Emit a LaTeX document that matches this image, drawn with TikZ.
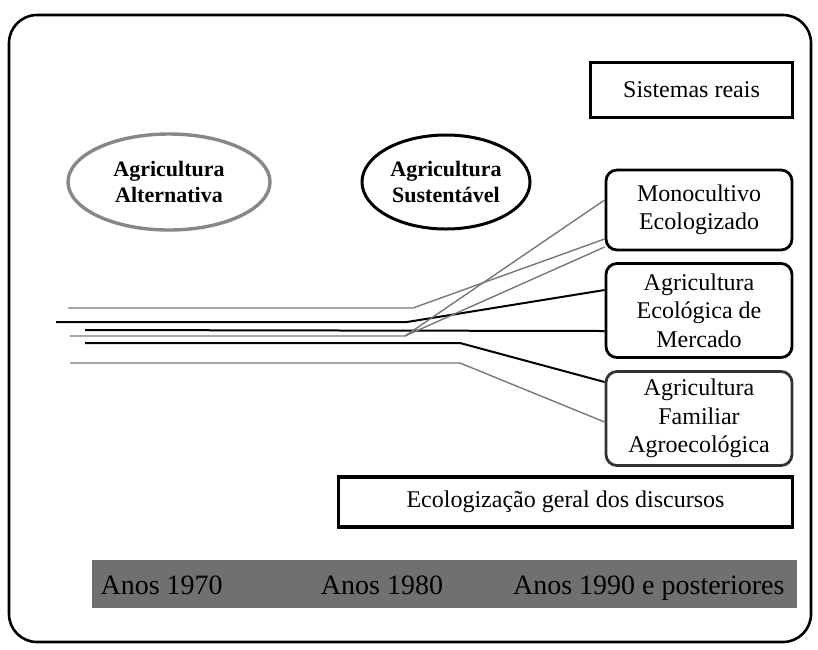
\documentclass[tikz,border=0pt]{standalone}
\usepackage{fontspec}
\setmainfont{Liberation Serif}
\usetikzlibrary{shapes.geometric}
\definecolor{linegray}{RGB}{120,120,120}
\definecolor{ringgray}{RGB}{135,135,135}
\definecolor{barfill}{RGB}{112,112,112}
\begin{document}
\begin{tikzpicture}[x=1pt,y=-1pt,
  txt/.style={font=\fontsize{24}{28.5}\selectfont, align=center},
  bartxt/.style={font=\fontsize{28}{30}\selectfont, anchor=base},
  btxt/.style={font=\fontsize{22}{26}\selectfont\bfseries, align=center},
  sharpbox/.style={draw, line width=3.2pt, inner sep=0pt, txt},
  roundbox/.style={draw, line width=2.8pt, rounded corners=11pt, inner sep=0pt, txt,
                   minimum width=186pt},
  oval/.style={ellipse, inner sep=0pt, btxt},
  blk/.style={line width=2pt, black},
  gry/.style={line width=1.4pt, linegray}]
\useasboundingbox (0,0) rectangle (818,649);

% outer frame
\draw[line width=2.6pt, rounded corners=28pt] (9,15) rectangle (811,642);

% paradigms
\node[oval, draw=ringgray, line width=3.4pt, minimum width=202pt, minimum height=96pt]
  (alt) at (169,182) {Agricultura\\Alternativa};
\node[oval, draw=black, line width=3pt, minimum width=168pt, minimum height=94pt]
  (sus) at (446,182) {Agricultura\\Sustentável};

% real systems
\node[sharpbox, minimum width=202pt, minimum height=55pt] (real) at (691.5,90) {Sistemas reais};
\node[roundbox, minimum height=80pt] (mono) at (699,210) {Monocultivo\\Ecologizado};
\node[roundbox, minimum height=94pt] (merc) at (699,310.5) {Agricultura\\Ecológica de\\Mercado};
\node[roundbox, draw=black!80, minimum height=94pt] (fam) at (699,418.5) {Agricultura\\Familiar\\Agroecológica};

\node[sharpbox, minimum width=454pt, minimum height=50pt] (disc) at (565.5,502)
  {Ecologização geral dos discursos};

% end points on the boxes
\coordinate (m1) at (mono.west |- 0,200);
\coordinate (m2) at (mono.west |- 0,239);
\coordinate (m3) at (mono.west |- 0,247);
\coordinate (e1) at (merc.west |- 0,290);
\coordinate (e2) at (merc.west |- 0,331);
\coordinate (f1) at (fam.west |- 0,382);
\coordinate (f2) at (fam.west |- 0,422);

% start points of the trajectories
\coordinate (s1) at (68,308);
\coordinate (s2) at (56,322);
\coordinate (s3) at (85,330);
\coordinate (s4) at (70,336);
\coordinate (s5) at (85,343);
\coordinate (s6) at (70,363);
\coordinate (k4) at (405,336);

% trajectories
\draw[gry] (s1) -- (413,308) -- (m2);
\draw[blk] (s2) -- (407,322) -- (e1);
\draw[blk] (s3) -- (e2);
\draw[gry] (s4) -- (k4) -- (m1);
\draw[gry] (k4) -- (m3);
\draw[blk] (s5) -- (460,343) -- (f1);
\draw[gry] (s6) -- (460,363) -- (f2);

% time bar
\fill[barfill] (92,560) rectangle (797,608);
\node[bartxt, anchor=base west] (d70) at (97,594) {Anos 1970};
\node[bartxt] (d80) at (382,594) {Anos 1980};
\node[bartxt, anchor=base east] (d90) at (788,594) {Anos 1990 e posteriores};
\end{tikzpicture}
\end{document}
